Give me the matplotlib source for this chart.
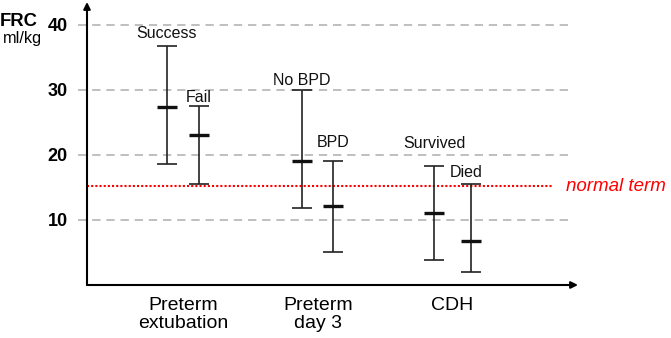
import matplotlib
matplotlib.use("Agg")
import matplotlib.pyplot as plt

plt.rcParams['font.family'] = ['Liberation Sans', 'DejaVu Sans']

# data (FRC, ml/kg)
groups = ["Preterm\nextubation", "Preterm\nday 3", "CDH"]
labels = ["Success", "Fail", "No BPD", "BPD", "Survived", "Died"]
group_of = [0, 0, 1, 1, 2, 2]
means = [27.3, 23.0, 19.0, 12.2, 11.1, 6.7]
upper = [36.8, 27.5, 29.9, 19.0, 18.3, 15.5]
lower = [18.6, 15.6, 11.8, 5.1, 3.8, 2.0]
grid_vals = [10, 20, 30, 40]
normal_term = 15.2

# layout only
offsets = [-0.12, 0.12, -0.115, 0.115, -0.137, 0.137]
label_dx = [0, 0, 0, 0, 0, -0.035]
label_pad = [3, 1, 2, 8, 11, 3]

fig = plt.figure(figsize=(6.71, 3.38), dpi=100)
ax = fig.add_axes([87 / 671, (338 - 285) / 338, (578 - 87) / 671, 283 / 338])
ax.set_xlim(0.288, 3.931)
ax.set_ylim(0, 43.5)

for s in ax.spines.values():
    s.set_visible(False)

# dashed grid
ax.hlines(grid_vals, 0.221, 3.872, colors="#b4b4b4", linestyles=(0, (5, 3.5)),
          linewidth=1.2, clip_on=False, zorder=1)
# normal term line
ax.hlines(normal_term, 0.288, 3.738, colors="red", linestyles=(0, (1, 1)),
          linewidth=1.5, zorder=2)
ax.text(3.845, normal_term, "normal term", color="red", style="italic",
        fontsize=13.5, va="center", ha="left", clip_on=False)

xs = [g + 1 + o for g, o in zip(group_of, offsets)]
for i in range(len(xs)):
    ax.errorbar(xs[i], (upper[i] + lower[i]) / 2,
                yerr=(upper[i] - lower[i]) / 2, fmt="none", ecolor="#222222",
                elinewidth=1.2, capsize=7.2, capthick=1.2, zorder=3)
    ax.plot(xs[i], means[i], marker="_", markersize=14.5, mew=2.4,
            color="#111111", zorder=4)
    ax.annotate(labels[i], (xs[i] + label_dx[i], upper[i]), xytext=(0, label_pad[i]),
                textcoords="offset points", ha="center", va="bottom",
                fontsize=11.5, color="#111111")

# axes with arrows
ax.annotate("", xy=(0, 1.0), xytext=(0, 0), xycoords="axes fraction",
            arrowprops=dict(arrowstyle="-|>", color="black", lw=1.5,
                            mutation_scale=10, shrinkA=0, shrinkB=0))
ax.annotate("", xy=(1.0, 0), xytext=(0, 0), xycoords="axes fraction",
            arrowprops=dict(arrowstyle="-|>", color="black", lw=1.5,
                            mutation_scale=10, shrinkA=0, shrinkB=0))

ax.set_yticks(grid_vals)
ax.set_yticklabels([str(v) for v in grid_vals], fontweight="bold", fontsize=13)
ax.tick_params(axis="y", length=0, pad=14)
ax.set_xticks([1, 2, 3])
ax.set_xticklabels(groups, fontsize=14, linespacing=1.0)
ax.tick_params(axis="x", length=0, pad=9)

fig.text(0.0, 1 - 21 / 338, "FRC", fontweight="bold", fontsize=13.3,
         va="center", ha="left")
fig.text(3 / 671, 1 - 38 / 338, "ml/kg", fontsize=11.7, va="center", ha="left")

fig.savefig("out.png", dpi=100)
